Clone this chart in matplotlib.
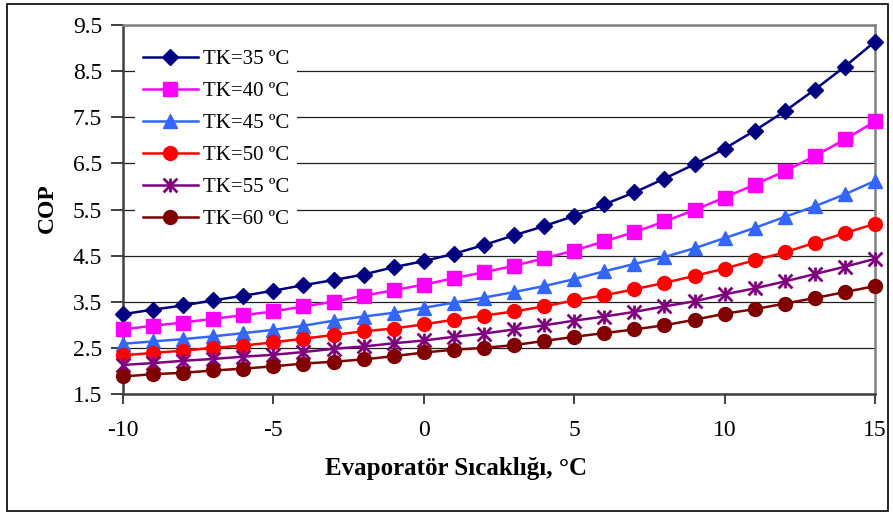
import matplotlib
matplotlib.use("Agg")
import matplotlib.pyplot as plt
from matplotlib.path import Path
from matplotlib.patches import Rectangle

plt.rcParams['font.family'] = ['Liberation Serif', 'DejaVu Serif']
plt.rcParams['axes.unicode_minus'] = False

# evaporator temperature, deg C
evap_temp = list(range(-10, 16))

cop_tk35 = [3.23, 3.33, 3.42, 3.53, 3.63, 3.74, 3.86, 3.97, 4.09, 4.25, 4.38, 4.54, 4.73,
            4.94, 5.14, 5.36, 5.61, 5.87, 6.17, 6.48, 6.82, 7.21, 7.63, 8.10, 8.60, 9.14]
cop_tk40 = [2.90, 2.98, 3.05, 3.13, 3.21, 3.29, 3.40, 3.50, 3.63, 3.75, 3.87, 4.01, 4.14,
            4.28, 4.44, 4.61, 4.81, 5.01, 5.24, 5.49, 5.76, 6.04, 6.33, 6.66, 7.02, 7.41]
cop_tk45 = [2.59, 2.64, 2.69, 2.75, 2.82, 2.89, 2.98, 3.09, 3.18, 3.26, 3.37, 3.48, 3.59,
            3.71, 3.84, 3.99, 4.16, 4.32, 4.47, 4.66, 4.88, 5.10, 5.34, 5.57, 5.83, 6.12]
cop_tk50 = [2.34, 2.39, 2.44, 2.50, 2.55, 2.62, 2.70, 2.78, 2.86, 2.92, 3.01, 3.11, 3.20,
            3.29, 3.40, 3.53, 3.64, 3.77, 3.91, 4.06, 4.22, 4.40, 4.57, 4.78, 4.99, 5.19]
cop_tk55 = [2.13, 2.17, 2.22, 2.26, 2.31, 2.35, 2.41, 2.48, 2.53, 2.60, 2.66, 2.74, 2.81,
            2.90, 2.99, 3.09, 3.18, 3.28, 3.40, 3.51, 3.66, 3.79, 3.94, 4.10, 4.26, 4.43]
cop_tk60 = [1.88, 1.93, 1.96, 2.01, 2.05, 2.10, 2.16, 2.20, 2.25, 2.32, 2.40, 2.46, 2.50,
            2.56, 2.65, 2.74, 2.82, 2.90, 2.99, 3.11, 3.24, 3.34, 3.46, 3.58, 3.71, 3.84]

labels = ["TK=35 ºC", "TK=40 ºC", "TK=45 ºC", "TK=50 ºC", "TK=55 ºC", "TK=60 ºC"]

# excel style star: vertical bar plus an X
star = Path([(0, -1), (0, 1), (-1, -1), (1, 1), (-1, 1), (1, -1)],
            [Path.MOVETO, Path.LINETO] * 3)

styles = [
    dict(color="#000080", marker="D", ms=8),
    dict(color="#FF00FF", marker="s", ms=9.5),
    dict(color="#3366FF", marker="^", ms=10.5),
    dict(color="#FF0000", marker="o", ms=10),
    dict(color="#800080", marker=star, ms=10, mew=2),
    dict(color="#800000", marker="o", ms=10),
]

fig = plt.figure(figsize=(8.93, 5.14), dpi=100)
ax = fig.add_axes([123 / 893, 1 - 394 / 514, 752 / 893, 369 / 514])

series = [cop_tk35, cop_tk40, cop_tk45, cop_tk50, cop_tk55, cop_tk60]
for vals, lab, st in zip(series, labels, styles):
    ax.plot(evap_temp, vals, label=lab, lw=1.8, clip_on=False, zorder=3, **st)

ax.set_xlim(-10, 15)
ax.set_ylim(1.5, 9.5)
ax.set_xticks([-10, -5, 0, 5, 10, 15])
ax.set_yticks([1.5, 2.5, 3.5, 4.5, 5.5, 6.5, 7.5, 8.5, 9.5])
ax.set_yticklabels(["1.5", "2.5", "3.5", "4.5", "5.5", "6.5", "7.5", "8.5", "9.5"])
ax.grid(axis="y", color="#202020", lw=0.9, zorder=1)
ax.set_axisbelow(True)

ax.tick_params(axis="x", labelsize=17, direction="out", length=7, width=1.2,
               pad=11.5, color="#202020")
ax.tick_params(axis="y", labelsize=17, direction="out", length=9, width=1.2,
               pad=6, color="#202020")

for side in ("left", "bottom"):
    ax.spines[side].set_color("#404040")
    ax.spines[side].set_linewidth(1.8)
for side in ("top", "right"):
    ax.spines[side].set_color("#808080")
    ax.spines[side].set_linewidth(1.8)

fig.text(456 / 893, 1 - 469 / 514, "Evaporatör Sıcaklığı, °C", fontsize=18,
         fontweight="bold", ha="center", va="center")
fig.text(47 / 893, 1 - 208 / 514, "COP", fontsize=17, fontweight="bold",
         rotation=90, ha="center", va="center")

leg = ax.legend(loc="upper left", bbox_to_anchor=(135 / 893, 1 - 41 / 514),
                bbox_transform=fig.transFigure, fontsize=15, frameon=True,
                fancybox=False, framealpha=1, facecolor="white", edgecolor="none",
                handlelength=2.6, handletextpad=0.25, labelspacing=0.6,
                borderpad=0.4, borderaxespad=0)
leg.set_zorder(5)

fig.patches.append(Rectangle((7 / 893, 3 / 514), 881 / 893, 507 / 514,
                             transform=fig.transFigure, fill=False,
                             edgecolor="black", lw=1.2))

fig.savefig("out.png", dpi=100)
